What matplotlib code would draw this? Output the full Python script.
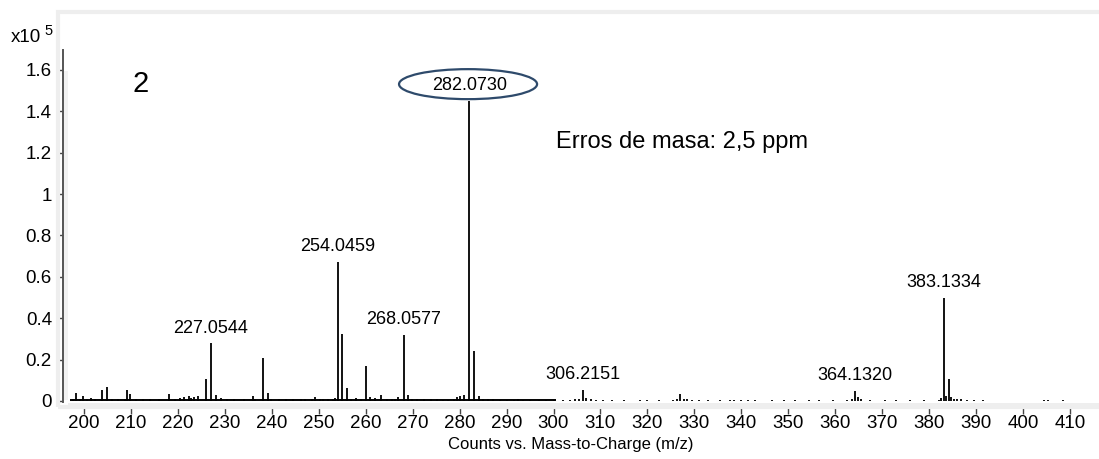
import numpy as np
import matplotlib
matplotlib.use('Agg')
import matplotlib.pyplot as plt
from matplotlib.patches import Ellipse, Rectangle
from matplotlib.ticker import FuncFormatter, MultipleLocator

plt.rcParams['font.family'] = ['Liberation Sans', 'DejaVu Sans']

# peaks (m/z, intensity in units of 1e5 counts)
peak_mz = [197.7, 198.2, 199.1, 199.8, 200.6, 201.5, 202.4, 203.8, 204.8, 206.0,
           207.2, 208.7, 209.2, 209.9, 211.1, 212.5, 214.0, 216.0, 218.0, 219.4,
           220.5, 221.2, 222.3, 222.8, 223.5, 224.3, 226.05, 227.05, 228.1, 229.1,
           230.5, 232.0, 234.0, 236.0, 236.5, 238.05, 239.1, 239.9, 241.5, 243.0,
           244.5, 246.2, 247.0, 248.5, 249.2, 250.3, 251.0, 251.9, 253.0, 253.5,
           254.05, 255.05, 256.05, 256.8, 257.9, 259.0, 260.05, 260.9, 262.0, 263.2,
           264.5, 265.5, 266.2, 266.9, 268.06, 269.0, 269.8, 271.0, 272.5, 274.0,
           275.2, 276.5, 277.5, 278.9, 279.5, 280.0, 281.0, 282.07, 283.08, 284.1,
           284.9, 286.0, 287.2, 288.5, 290.0, 291.5, 292.4, 293.5, 295.0, 297.0,
           298.5, 300.0, 302.0, 303.5, 304.5, 305.5, 306.22, 306.9, 308.0, 309.0,
           310.5, 312.5, 315.0, 318.5, 320.0, 322.5, 325.5, 326.3, 326.9, 327.8,
           328.5, 329.5, 331.0, 333.0, 335.5, 337.5, 338.5, 340.0, 341.5, 343.0,
           346.5, 349.0, 351.5, 354.5, 356.5, 359.5, 362.5, 363.6, 364.13, 364.8,
           365.5, 367.5, 370.5, 373.0, 376.0, 379.0, 382.0, 382.6, 383.13, 383.6,
           384.13, 384.7, 385.3, 386.0, 386.7, 388.0, 389.5, 391.5, 404.5, 405.3,
           408.5]
peak_int = [0.012, 0.038, 0.010, 0.025, 0.010, 0.015, 0.008, 0.052, 0.068, 0.010,
            0.012, 0.010, 0.055, 0.035, 0.012, 0.010, 0.008, 0.008, 0.032, 0.010,
            0.015, 0.020, 0.025, 0.015, 0.020, 0.025, 0.106, 0.278, 0.030, 0.015,
            0.008, 0.008, 0.010, 0.025, 0.012, 0.208, 0.040, 0.012, 0.008, 0.008,
            0.008, 0.012, 0.010, 0.008, 0.020, 0.010, 0.012, 0.008, 0.010, 0.015,
            0.670, 0.325, 0.062, 0.012, 0.015, 0.012, 0.170, 0.020, 0.015, 0.030,
            0.008, 0.008, 0.012, 0.020, 0.320, 0.030, 0.012, 0.008, 0.008, 0.008,
            0.008, 0.006, 0.006, 0.010, 0.020, 0.022, 0.030, 1.450, 0.240, 0.025,
            0.010, 0.008, 0.008, 0.006, 0.006, 0.006, 0.010, 0.006, 0.006, 0.006,
            0.005, 0.005, 0.006, 0.006, 0.008, 0.010, 0.052, 0.015, 0.008, 0.006,
            0.005, 0.004, 0.004, 0.004, 0.006, 0.004, 0.006, 0.012, 0.036, 0.012,
            0.008, 0.006, 0.004, 0.004, 0.004, 0.004, 0.004, 0.004, 0.004, 0.004,
            0.004, 0.004, 0.004, 0.004, 0.004, 0.004, 0.006, 0.012, 0.050, 0.020,
            0.012, 0.004, 0.004, 0.004, 0.004, 0.004, 0.004, 0.015, 0.500, 0.025,
            0.106, 0.020, 0.012, 0.012, 0.010, 0.004, 0.004, 0.004, 0.004, 0.004,
            0.004]

label_mz = [227.0544, 254.0459, 268.0577, 282.0730, 306.2151, 364.1320, 383.1334]
label_int = [0.278, 0.670, 0.320, 1.450, 0.052, 0.050, 0.500]

fig = plt.figure(figsize=(10.99, 4.59), dpi=100)
W, H = 1099, 459

# light gray outer frame
fig.add_artist(Rectangle((58 / W, (H - 407) / H), 1.05, (407 - 12) / H,
                         transform=fig.transFigure, fill=False,
                         edgecolor='#eeeeee', lw=3))

ax = fig.add_axes([63 / W, (H - 407) / H, 1 - 63 / W, (407 - 50) / H])
ax.set_facecolor('none')

ax.vlines(peak_mz, 0, peak_int, color='black', lw=1.3)
ax.hlines(0.003, 197.0, 300.5, color='black', lw=1.4)

for mz, y in zip(label_mz, label_int):
    ax.annotate(f'{mz:.4f}', (mz, y), xytext=(0, 5), textcoords='offset points',
                ha='center', va='bottom', fontsize=13)

ax.add_patch(Ellipse((281.8, 1.531), 29.4, 0.145, fill=False,
                     edgecolor='#2e4a6b', lw=1.6))

ax.set_xlim(195.53, 416.18)
ax.set_ylim(-0.029, 1.696)
ax.xaxis.set_major_locator(MultipleLocator(10))
ax.yaxis.set_major_locator(MultipleLocator(0.2))
ax.yaxis.set_major_formatter(FuncFormatter(lambda v, p: f'{v:g}'))

for s in ['top', 'right']:
    ax.spines[s].set_visible(False)
ax.spines['left'].set_color('#555555')
ax.spines['left'].set_linewidth(1.4)
ax.spines['left'].set_bounds(-0.005, 1.696)
ax.spines['bottom'].set_color('#8c8c8c')
ax.spines['bottom'].set_linewidth(1.4)
ax.spines['bottom'].set_bounds(196.6, 416.18)
ax.axhspan(-0.026, -0.012, xmin=0.005, color='#eeeeee', lw=0)
ax.axvspan(195.8, 196.6, ymin=0.02, ymax=0.94, color='#f2f2f2', lw=0)

ax.tick_params(axis='both', labelsize=13.5, color='#444444', length=5, width=1)
ax.tick_params(axis='y', pad=3)
ax.tick_params(axis='x', pad=1)
ax.set_xlabel('Counts vs. Mass-to-Charge (m/z)', fontsize=12, labelpad=1)
ax.xaxis.set_label_coords((571 - 63) / (W - 63), -0.085)

fig.text(11 / W, 1 - 42 / H, 'x10', fontsize=13.5)
fig.text(44 / W, 1 - 35 / H, '5', fontsize=10.5)
fig.text(132 / W, 1 - 92 / H, '2', fontsize=21)
fig.text(556 / W, 1 - 148 / H, 'Erros de masa: 2,5 ppm', fontsize=17)

fig.savefig('out.png', dpi=100)
